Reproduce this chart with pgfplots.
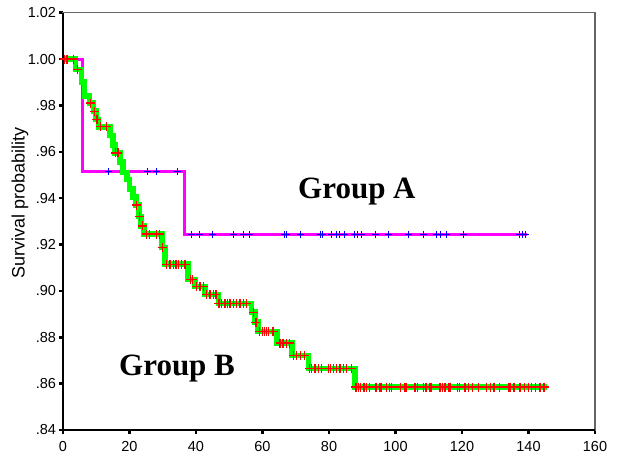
\documentclass[border=0pt]{standalone}
\usepackage{fontspec}
\setmainfont{Liberation Sans}
\newfontfamily\serifbf{Liberation Serif}
\usepackage{pgfplots}
\pgfplotsset{compat=1.18}
\definecolor{kmpink}{RGB}{255,0,255}
\definecolor{kmblue}{RGB}{0,0,255}
\definecolor{kmgreen}{RGB}{0,255,0}
\definecolor{kmred}{RGB}{255,0,0}

\begin{document}
\begin{tikzpicture}
\begin{axis}[
  name=ax,
  scale only axis,
  width=532bp, height=417.3bp,
  xmin=0, xmax=160, ymin=0.84, ymax=1.02,
  xtick={0,20,40,60,80,100,120,140,160},
  xticklabels={0,20,40,60,80,100,120,140,160},
  ytick={0.84,0.86,0.88,0.90,0.92,0.94,0.96,0.98,1.00,1.02},
  yticklabels={.84,.86,.88,.90,.92,.94,.96,.98,1.00,1.02},
  xtick pos=bottom, ytick pos=left,
  tick label style={font=\fontsize{14.5bp}{17bp}\selectfont},
  xticklabel style={yshift=-4bp},
  tick align=outside,
  major tick length=3.5bp,
  tick style={black, line width=2.5bp},
  axis line style={draw=gray!80!black, line width=1.2bp},
  ylabel={Survival probability},
  ylabel style={font=\fontsize{18bp}{21bp}\selectfont, at={(axis description cs:-0.081,0.545)}, anchor=center},
  clip=false,
]
% Group A
\addplot[const plot, color=kmpink, line width=3bp] coordinates {
  (0,1.000) (5.9,0.9513) (36.4,0.9245) (139.5,0.9245)
};
\addplot[only marks, mark=+, mark size=3.5bp, color=kmblue, mark options={line width=1bp}] coordinates {
  (13.8,0.9513) (25.3,0.9513) (28.0,0.9513) (34.3,0.9513)
  (38.7,0.9245) (41.2,0.9245) (45.1,0.9245) (51.2,0.9245) (54.2,0.9245) (56.2,0.9245)
  (66.5,0.9245) (67.1,0.9245) (71.5,0.9245) (77.3,0.9245) (77.9,0.9245) (80.9,0.9245)
  (82.4,0.9245) (83.3,0.9245) (84.8,0.9245) (87.8,0.9245) (88.7,0.9245) (89.9,0.9245)
  (94.1,0.9245) (98.0,0.9245) (103.8,0.9245) (108.3,0.9245) (112.2,0.9245) (113.6,0.9245)
  (115.2,0.9245) (120.3,0.9245) (137.4,0.9245) (138.3,0.9245) (139.2,0.9245)
};
% Group B
\addplot[const plot, color=kmgreen, line width=5.5bp] coordinates {
  (0,1.000) (3.7,0.9955) (5.6,0.990) (6.4,0.984) (8.0,0.981) (9.2,0.9775)
  (10.0,0.974) (10.7,0.9708) (14.2,0.967) (15.0,0.963) (15.6,0.9595) (17.1,0.9555)
  (18.1,0.951) (19.2,0.948) (20.0,0.944) (21.0,0.9405) (22.0,0.937) (22.8,0.932)
  (23.5,0.928) (24.4,0.9245) (29.7,0.9188) (30.7,0.9115) (37.6,0.9050) (39.7,0.9020)
  (42.7,0.8985) (46.7,0.8945) (56.7,0.8908) (57.7,0.8865) (58.7,0.8825) (64.3,0.8775)
  (68.8,0.8722) (73.8,0.8665) (87.8,0.8585) (145.5,0.8585)
};
\addplot[only marks, mark=+, mark size=4.5bp, color=kmred, mark options={line width=1.3bp}] coordinates {
  (0.5,1.000) (1.2,1.000) (3.1,1.000) (4.3,0.9955) (8.3,0.981) (9.5,0.9775)
  (10.2,0.974) (11.2,0.9708) (13.1,0.9708) (15.7,0.9595) (16.5,0.9595)
  (22.1,0.937) (23.0,0.932) (24.0,0.928)
  (25.1,0.9245) (26.0,0.9245) (28.2,0.9245) (29.0,0.9245) (30.0,0.9188)
  (31.2,0.9115) (32.2,0.9115) (33.2,0.9115) (34.0,0.9115) (34.7,0.9115) (35.7,0.9115) (36.7,0.9115)
  (38.3,0.9050) (38.9,0.9050)
  (40.2,0.9020) (41.2,0.9020) (42.2,0.9020)
  (43.2,0.8985) (44.2,0.8985) (45.2,0.8985) (46.0,0.8985)
  (46.9,0.8945) (47.7,0.8945) (48.7,0.8945) (49.5,0.8945) (50.2,0.8945)
  (51.2,0.8945) (52.2,0.8945) (53.2,0.8945) (54.2,0.8945) (55.2,0.8945)
  (57.2,0.8908) (58.0,0.8865)
  (59.2,0.8825) (59.9,0.8825) (60.5,0.8825) (61.2,0.8825) (61.9,0.8825) (63.2,0.8825)
  (65.3,0.8775) (66.2,0.8775) (67.3,0.8775) (68.1,0.8775)
  (69.4,0.8722) (70.2,0.8722) (71.5,0.8722) (72.6,0.8722)
  (74.1,0.8665) (74.8,0.8665) (75.8,0.8665) (76.8,0.8665) (77.8,0.8665) (79.8,0.8665)
  (80.4,0.8665) (81.3,0.8665) (82.3,0.8665) (83.3,0.8665) (84.3,0.8665) (85.3,0.8665) (86.8,0.8665)
  (88.1,0.8585) (88.8,0.8585) (89.5,0.8585) (90.5,0.8585) (91.3,0.8585) (92.1,0.8585)
  (94.1,0.8585) (95.3,0.8585) (95.8,0.8585) (97.3,0.8585) (98.1,0.8585) (98.8,0.8585)
  (101.4,0.8585) (102.9,0.8585) (103.2,0.8585) (105.9,0.8585) (106.6,0.8585) (108.4,0.8585)
  (109.2,0.8585) (110.4,0.8585) (110.9,0.8585) (113.4,0.8585) (114.1,0.8585) (114.9,0.8585)
  (115.9,0.8585) (116.4,0.8585) (118.6,0.8585) (119.2,0.8585) (120.9,0.8585) (121.9,0.8585)
  (123.2,0.8585) (124.9,0.8585) (127.4,0.8585) (128.6,0.8585) (129.6,0.8585) (131.2,0.8585)
  (133.9,0.8585) (134.4,0.8585) (135.6,0.8585) (137.4,0.8585) (138.9,0.8585) (139.9,0.8585)
  (141.0,0.8585) (142.0,0.8585) (143.5,0.8585) (144.7,0.8585)
};
% heavier left and bottom axis lines
\draw[black, line width=2.2bp] (rel axis cs:0,1) -- (rel axis cs:0,0) -- (rel axis cs:1,0);
\node[font=\serifbf\bfseries\fontsize{31bp}{36bp}\selectfont] at (axis cs:88.4,0.9427) {Group A};
\node[font=\serifbf\bfseries\fontsize{31bp}{36bp}\selectfont] at (axis cs:34.3,0.8667) {Group B};
\end{axis}
\pgfresetboundingbox
\path[use as bounding box] ([shift={(-63bp,-26bp)}]ax.south west) rectangle ([shift={(23bp,12.7bp)}]ax.north east);
\end{tikzpicture}
\end{document}
